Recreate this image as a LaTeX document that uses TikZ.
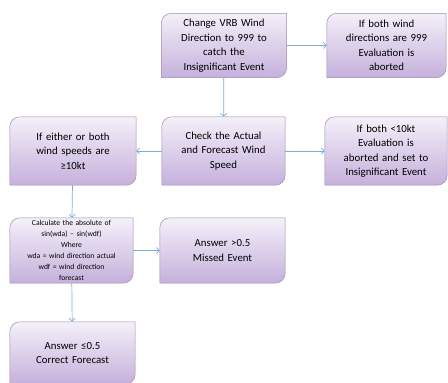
\documentclass[tikz,border=0pt]{standalone}
\usepackage{fontspec}
\setmainfont{Carlito}
\usetikzlibrary{arrows.meta,backgrounds}

\definecolor{boxtop}{HTML}{F4F0F9}
\definecolor{boxbottom}{HTML}{C5B0DC}
\definecolor{boxline}{HTML}{A092B6}
\definecolor{linkblue}{HTML}{7EAAD8}

\tikzset{
  stepbox/.style={minimum width=#1, inner sep=1pt, align=center,
    text width=#1-2pt, font=\fontsize{10.8}{14.5}\selectfont},
  link/.style={draw=linkblue, line width=0.7pt,
    -{Straight Barb[length=3pt,width=6pt]}},
  boxfill/.style={draw=boxline, line width=0.5pt, top color=boxtop, bottom color=boxbottom},
  boxshadow/.style={fill=black!18},
}

\begin{document}
\begin{tikzpicture}[x=1pt,y=1pt]
\useasboundingbox (0,0) rectangle (448,-383);

\node[stepbox=125pt, minimum height=64pt] (vrb) at (224,-45.5)
  {Change VRB Wind\\Direction to 999 to\\catch the\\Insignificant Event};
\node[stepbox=119pt, minimum height=64pt] (dir999) at (386.5,-45.5)
  {If both wind\\directions are 999\\Evaluation is\\aborted};
\node[stepbox=123pt, minimum height=68pt] (check) at (223.5,-151)
  {Check the Actual\\and Forecast Wind\\Speed};
\node[stepbox=126pt, minimum height=68pt] (high) at (73,-151)
  {If either or both\\wind speeds are\\≥10kt};
\node[stepbox=122pt, minimum height=68pt] (low) at (386,-151)
  {If both <10kt\\Evaluation is\\aborted and set to\\Insignificant Event};
\node[stepbox=123pt, minimum height=65pt, font=\fontsize{7.6}{11}\selectfont] (calc) at (71.5,-250.5)
  {Calculate the absolute of\\sin(wda) – sin(wdf)\\Where\\wda = wind direction actual\\wdf = wind direction\\forecast};
\node[stepbox=125pt, minimum height=65pt] (missed) at (222.5,-250.5)
  {Answer >0.5\\Missed Event};
\node[stepbox=125pt, minimum height=62pt] (correct) at (72.5,-353)
  {Answer ≤0.5\\Correct Forecast};

% box outlines: rounded top-left and bottom-right corners, square elsewhere
\begin{scope}[on background layer]
  \foreach \n in {vrb,dir999,check,high,low,calc,missed,correct}{
    \path[boxshadow, xshift=1.2pt, yshift=-1.2pt]
      (\n.north east) -- ([yshift=10pt]\n.south east)
      arc[start angle=0,end angle=-90,radius=10pt]
      -- (\n.south west) -- ([yshift=-10pt]\n.north west)
      arc[start angle=180,end angle=90,radius=10pt] -- cycle;
    \path[boxfill]
      (\n.north east) -- ([yshift=10pt]\n.south east)
      arc[start angle=0,end angle=-90,radius=10pt]
      -- (\n.south west) -- ([yshift=-10pt]\n.north west)
      arc[start angle=180,end angle=90,radius=10pt] -- cycle;
  }
\end{scope}

\draw[link] (vrb) -- (check);
\draw[link] (vrb) -- (dir999);
\draw[link] (check) -- (high);
\draw[link] (check) -- (low);
\draw[link] (high) -- (calc);
\draw[link] (calc) -- (missed);
\draw[link] (calc) -- (correct);
\end{tikzpicture}
\end{document}
